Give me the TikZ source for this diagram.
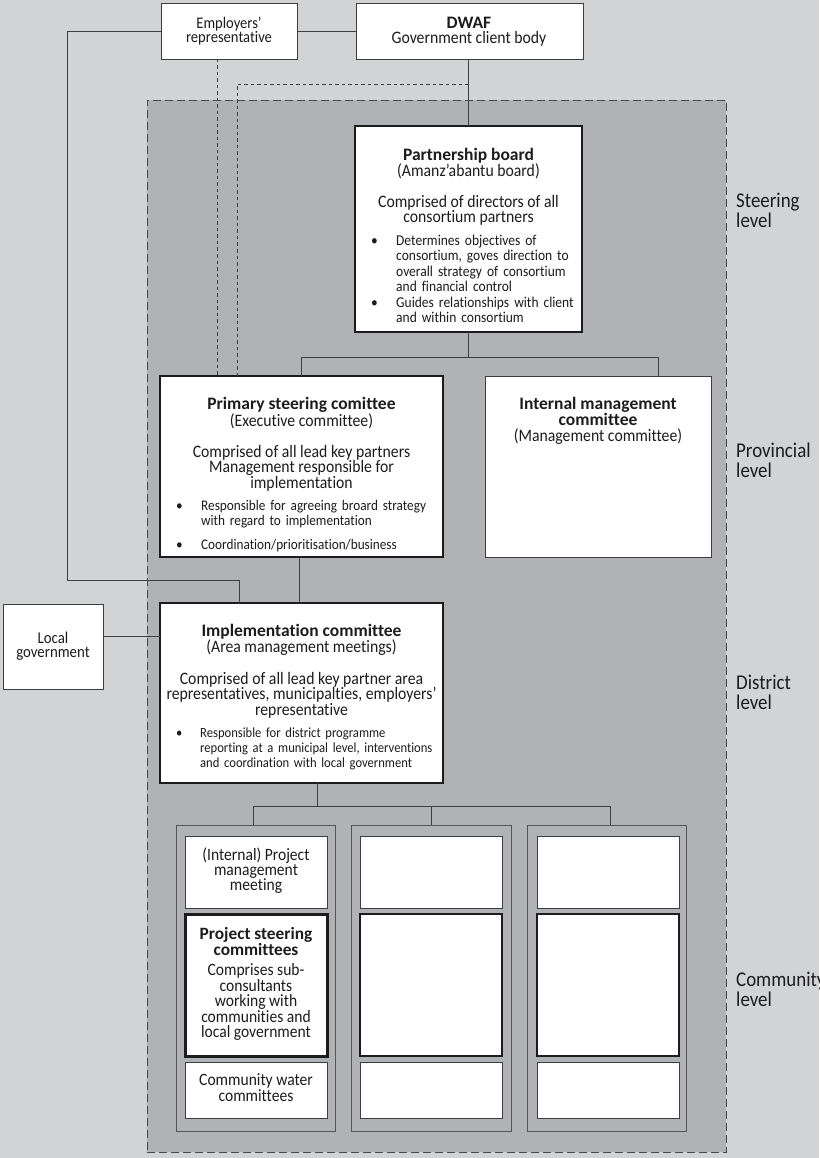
\documentclass[tikz,border=0pt]{standalone}
\usepackage{fontspec}
\setmainfont{Carlito}[FakeStretch=0.9, Ligatures=NoCommon]
\newfontfamily\ttlfont{Carlito}[Ligatures=NoCommon]
\usetikzlibrary{calc}
\definecolor{bgl}{RGB}{210,211,213}
\definecolor{bgd}{RGB}{177,178,181}
\definecolor{ink}{RGB}{28,28,28}
\newcommand{\fl}{\rule{0pt}{14pt}}
\newcommand{\bitem}[2][25pt]{\par\noindent\hangindent=#1\hangafter=1\fl\makebox[#1][l]{\textbullet}#2\par}
\newcommand{\mkbox}[6]{\node[#1, minimum width={#5-#3}, minimum height={#6-#4}] (#2) at (#3,#4) {};}
\newcommand{\ttl}[1]{{\ttlfont\bfseries #1}}
\tikzset{
  box/.style={draw=ink!85, line width=0.9pt, fill=white, inner sep=0pt, outer sep=0pt, anchor=north west, rectangle},
  thickbox/.style={box, draw=ink, line width=2.4pt},
  thickerbox/.style={box, draw=ink, line width=3pt},
  medbox/.style={box, draw=ink, line width=1.8pt},
  colbox/.style={box, fill=bgd, draw=ink!75},
  conn/.style={draw=ink!85, line width=0.9pt},
  dconn/.style={conn, dash pattern=on 3.5pt off 3pt},
  txt/.style={inner sep=0pt, align=center, anchor=north, text=ink, font=\fontsize{17.5}{15.5}\selectfont},
  btxt/.style={inner sep=0pt, align=left, text=ink, anchor=north west, text width=300, font=\fontsize{15}{15.4}\selectfont},
  lvl/.style={inner sep=0pt, align=left, text=ink, anchor=north west, font=\fontsize{21}{20}\selectfont},
}
\begin{document}
\lineskiplimit=-30pt \lineskip=0pt
\begin{tikzpicture}[x=1pt,y=-1pt]
\useasboundingbox (0,0) rectangle (819,1158);
\fill[bgl] (0,0) rectangle (819,1158);
% region
\node[draw=ink!80, fill=bgd, line width=0.9pt, dash pattern=on 8pt off 4pt, inner sep=0pt, anchor=north west, minimum width=579, minimum height=1052] (region) at (147,100) {};
% boxes
\mkbox{box}{emp}{161}{3}{297}{59}
\mkbox{box}{dwaf}{356}{3}{583}{59}
\mkbox{thickbox}{pb}{355}{126}{582}{332}
\mkbox{thickbox}{psc}{160}{376}{443}{557}
\mkbox{box}{imc}{485}{376}{711}{557}
\mkbox{thickbox}{impl}{160}{603}{443}{783}
\mkbox{box}{loc}{3}{604}{103}{689}
\mkbox{colbox}{col1}{176}{825}{335}{1131}
\mkbox{colbox}{col2}{351}{825}{511}{1131}
\mkbox{colbox}{col3}{527}{825}{686}{1131}
\mkbox{box}{c1a}{185}{836}{327}{908}
\mkbox{thickerbox}{c1b}{185}{914}{327}{1056}
\mkbox{box}{c1c}{185}{1062}{327}{1118}
\mkbox{box}{c2a}{360}{836}{502}{908}
\mkbox{medbox}{c2b}{360}{914}{502}{1056}
\mkbox{box}{c2c}{360}{1062}{502}{1118}
\mkbox{box}{c3a}{537}{836}{679}{908}
\mkbox{medbox}{c3b}{537}{914}{679}{1056}
\mkbox{box}{c3c}{537}{1062}{679}{1118}
% texts
\node[txt, font=\fontsize{16.2}{14}\selectfont] (empt) at (229,14) {\fl Employers'\\representative};
\node[txt] (dwaft) at (469,14) {\fl\ttl{DWAF}\\Government client body};
\node[txt] (pbt) at (468.5,146.7) {\fl\ttl{Partnership board}\\[-0.2pt](Amanz'abantu board)\\[15.5pt]Comprised of directors of all\\consortium partners};
\node[btxt] (pbb) at (371,230) {\bitem{Determines objectives of\newline consortium, goves direction to\newline overall strategy of consortium\newline and financial control}\bitem{Guides relationships with client\newline and within consortium}};
\node[txt] (psct) at (301.5,395.3) {\fl\ttl{Primary steering comittee}\\[1.2pt](Executive committee)\\[15.3pt]Comprised of all lead key partners\\Management responsible for\\implementation};
\node[btxt, font=\fontsize{14.7}{15.3}\selectfont] (pscb) at (176,495) {\bitem{Responsible for agreeing broard strategy\newline with regard to implementation}\vspace{6pt}\bitem{Coordination/prioritisation/business}};
\node[txt] (imct) at (598,395.3) {\fl\ttl{Internal management}\\[0.2pt]\ttl{committee}\\[1pt](Management committee)};
\node[txt] (implt) at (301.5,622.7) {\fl\ttl{Implementation committee}\\[0.1pt](Area management meetings)\\[16.2pt]Comprised of all lead key partner area\\representatives, municipalties, employers'\\representative};
\node[btxt, font=\fontsize{14}{15.2}\selectfont] (implb) at (176,721.7) {\bitem[24pt]{Responsible for district programme\newline reporting at a municipal level, interventions\newline and coordination with local government}};
\node[txt, font=\fontsize{16.5}{14.4}\selectfont] (loct) at (53,629.3) {\fl Local\\government};
\node[txt, font=\fontsize{17.3}{15}\selectfont] (c1at) at (256,846) {\fl(Internal) Project\\management\\meeting};
\node[txt, font=\fontsize{17.3}{15.6}\selectfont] (c1bt) at (256,925.5) {\fl\ttl{Project steering}\\[0pt]\ttl{committees}\\[4.5pt]Comprises sub-\\consultants\\working with\\communities and\\local government};
\node[txt, font=\fontsize{17.3}{15.6}\selectfont] (c1ct) at (256,1071.7) {\fl Community water\\committees};
% level labels
\node[lvl] (l1) at (736,190) {\rule{0pt}{17pt}Steering\\level};
\node[lvl] (l2) at (736,440.3) {\rule{0pt}{17pt}Provincial\\level};
\node[lvl] (l3) at (736,672.3) {\rule{0pt}{17pt}District\\level};
\node[lvl] (l4) at (736,969.7) {\rule{0pt}{17pt}Community\\level};
% connectors
\coordinate (cL) at (67,580);
\coordinate (cM) at (239,580);
\draw[conn] (emp.west) -| (cL) -- (cM) -- (cM |- impl.north);
\draw[conn] (emp.east) -- (dwaf.west);
\draw[conn] (pb.north) -- (pb.north |- dwaf.south);
\coordinate (d0) at (217,0);
\draw[dconn] (emp.south -| d0) -- (d0 |- psc.north);
\coordinate (d1) at (237,84);
\draw[dconn] (pb.north |- d1) -- (d1) -- (d1 |- psc.north);
\coordinate (jl) at (301,357);
\coordinate (jr) at (658,357);
\draw[conn] (pb.south) -- (pb.south |- jl);
\draw[conn] (jl |- psc.north) -- (jl) -- (jr) -- (jr |- imc.north);
\coordinate (jm) at (299,580);
\draw[conn] (jm |- psc.south) -- (jm |- impl.north);
\draw[conn] ([yshift=10.5pt]loc.east) -- ([yshift=10.5pt]loc.east -| impl.west);
\coordinate (ja) at (317,806);
\coordinate (jb) at (253,806);
\coordinate (jc) at (610,806);
\draw[conn] (ja |- impl.south) -- (ja);
\draw[conn] (jb |- col1.north) -- (jb) -- (jc) -- (jc |- col3.north);
\draw[conn] (col2.north) -- (col2.north |- ja);
\end{tikzpicture}
\end{document}
